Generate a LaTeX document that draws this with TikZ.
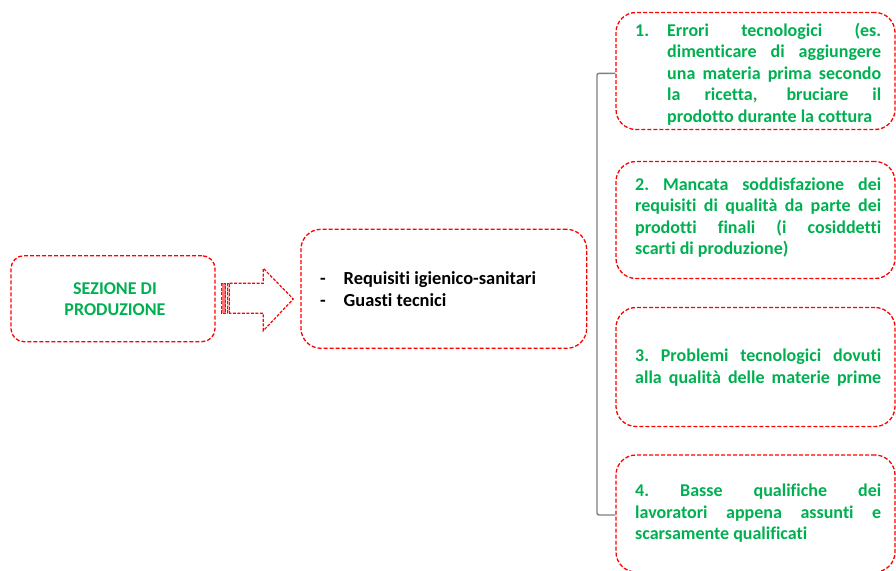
\documentclass[tikz,border=0pt]{standalone}
\usepackage{fontspec}
\setmainfont{Carlito}[Ligatures=NoCommon]
\definecolor{boxred}{HTML}{FF0000}
\definecolor{txtgreen}{HTML}{00B050}
\definecolor{bracketgray}{HTML}{7F7F7F}
\begin{document}
\begin{tikzpicture}[x=1pt,y=-1pt,
  dashbox/.style={draw=boxred, line width=1.3pt, dash pattern=on 4pt off 2pt,
    rounded corners=#1, rectangle, inner sep=0pt},
  dashbox/.default=20pt,
  greentext/.style={inner sep=0pt, anchor=base west, text=txtgreen,
    font=\fontsize{18pt}{21.6pt}\selectfont\bfseries},
  blacktext/.style={inner sep=0pt, anchor=base west, text=black,
    font=\fontsize{18.4pt}{21.8pt}\selectfont\bfseries},
  bracket/.style={draw=bracketgray, line width=1.4pt, rounded corners=2pt},
  arrowline/.style={draw=boxred, line width=1.2pt, dash pattern=on 3pt off 1.5pt}
]
\useasboundingbox (0,0) rectangle (896,570);
\clip (0,0) rectangle (896,570);
\hyphenpenalty=10000
\exhyphenpenalty=10000

% source box
\node[dashbox=13pt, minimum width=204pt, minimum height=86pt] (sez) at (113,298.7) {};
\node[inner sep=0pt, anchor=base, text=txtgreen,
  font=\fontsize{18pt}{21.6pt}\selectfont\bfseries] (sezt) at (115,294)
  {\begin{tabular}[t]{@{}c@{}}SEZIONE DI\\PRODUZIONE\end{tabular}};

% striped block arrow
\draw[arrowline, fill=boxred!55] (221.5,283.3) rectangle (225.8,313.3);
\draw[arrowline, fill=boxred!30] (227.3,283.3) rectangle (229.6,313.3);
\draw[arrowline] (229.6,283.3) -- (263.3,283.3) -- (263.3,268.3) -- (293.3,299)
  -- (263.3,330.7) -- (263.3,313.3) -- (229.6,313.3);

% middle box
\node[dashbox=20pt, minimum width=285.7pt, minimum height=119pt] (req) at (443.8,288.8) {};
\node[blacktext] (reqt) at (320,284.3)
  {\parbox[t]{260pt}{\makebox[23.5pt][l]{-}Requisiti igienico-sanitari\\
   \makebox[23.5pt][l]{-}Guasti tecnici}};

% right column of causes
\node[dashbox=20pt, minimum width=279pt, minimum height=117pt] (c1) at (755.5,71) {};
\node[dashbox=20pt, minimum width=279pt, minimum height=117pt] (c2) at (755.5,220) {};
\node[dashbox=20pt, minimum width=279pt, minimum height=119pt] (c3) at (755.5,367) {};
\node[dashbox=20pt, minimum width=279pt, minimum height=117pt] (c4) at (755.5,513.5) {};

\node[greentext] (c1t) at (635,36)
  {\parbox[t]{246pt}{\hyphenpenalty=10000\hangindent=32pt\hangafter=1\noindent
   \makebox[32pt][l]{1.}Errori tecnologici (es.\linebreak
   dimenticare di aggiungere\linebreak
   una materia prima secondo\linebreak
   la ricetta, bruciare il\linebreak
   prodotto durante la cottura}};
\node[greentext] (c2t) at (635,190)
  {\parbox[t]{246pt}{\hyphenpenalty=10000\noindent 2.\ Mancata soddisfazione dei\linebreak
   requisiti di qualità da parte dei\linebreak
   prodotti finali (i cosiddetti\linebreak
   scarti di produzione)}};
\node[greentext] (c3t) at (635,361.7)
  {\parbox[t]{246pt}{\hyphenpenalty=10000\parfillskip=0pt\noindent 3.\ Problemi tecnologici dovuti\linebreak
   alla qualità delle materie prime}};
\node[greentext] (c4t) at (635,496.7)
  {\parbox[t]{246pt}{\hyphenpenalty=10000\noindent 4.\ Basse qualifiche dei\linebreak
   lavoratori appena assunti e\linebreak
   scarsamente qualificati}};

% bracket joining the causes
\draw[bracket] (c1.west |- 0,73.3) -- (597,73.3) |- (c4.west |- 0,515);
\end{tikzpicture}
\end{document}
